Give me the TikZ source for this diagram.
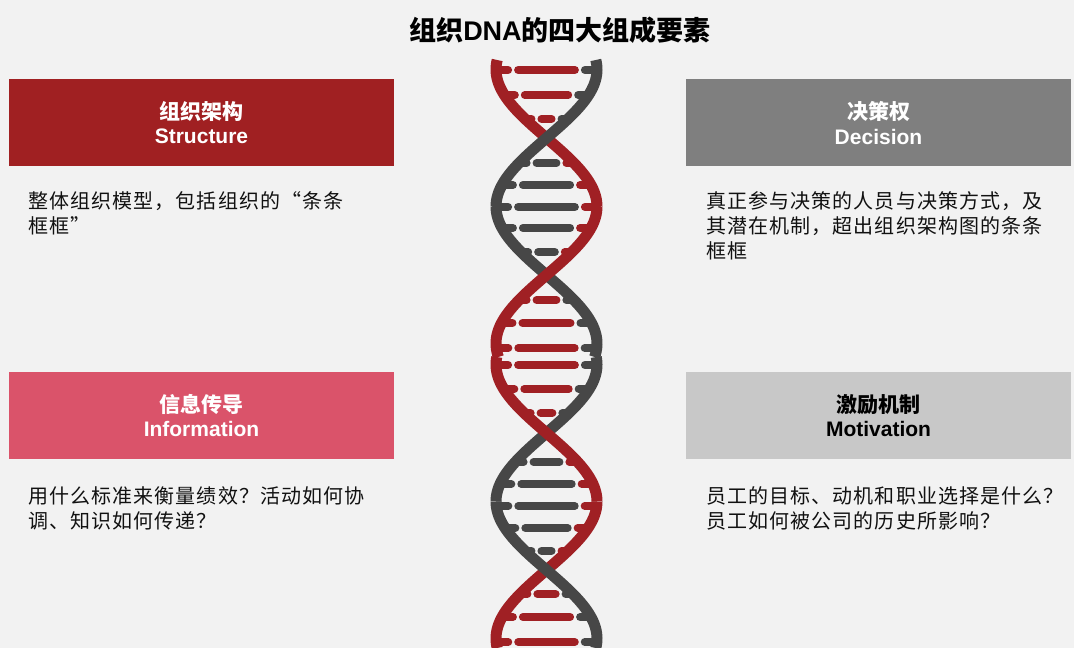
\documentclass[tikz,border=0pt]{standalone}
\usepackage{fontspec}
\setmainfont{Liberation Sans}
\newfontfamily\cjk{Noto Sans CJK SC}
\newfontfamily\cjkbody[LetterSpace=5.5]{Noto Sans CJK SC}

\definecolor{bg}{HTML}{F2F2F2}
\definecolor{ink}{HTML}{111111}
\definecolor{dnared}{HTML}{A02024}
\definecolor{dnagrey}{HTML}{474747}
\definecolor{boxred}{HTML}{A02022}
\definecolor{boxgrey}{HTML}{7F7F7F}
\definecolor{boxpink}{HTML}{DA536A}
\definecolor{boxlight}{HTML}{C8C8C8}

\tikzset{
	headbox/.style={minimum width=385pt, minimum height=87pt, inner sep=0pt, align=center,
		text=white, font=\bfseries\fontsize{21}{24.5}\selectfont},
	bodytext/.style={anchor=north west, inner sep=0pt, align=left, text=ink,
		font=\cjkbody\fontsize{20}{25}\selectfont},
	strand/.style={line width=11pt, samples=60, variable=\t},
	rungbar/.style={line width=8pt, line cap=round},
}

\begin{document}
\begin{tikzpicture}[
		x={(1pt,0pt)},
		y={(0pt,-1pt)},
	]
	\fill[bg] (0,0) rectangle (1074,648);
	\useasboundingbox (0,0) rectangle (1074,648);

	\node[font=\cjk\bfseries\fontsize{27}{30}\selectfont] (title) at (560,30) {组织{\rmfamily DNA}的四大组成要素};

	% the four boxes
	\node[headbox,fill=boxred] (struct) at (201.5,122.8) {{\cjk 组织架构}\\Structure};
	\node[headbox,fill=boxgrey] (decis) at (878.5,122.8) {{\cjk 决策权}\\Decision};
	\node[headbox,fill=boxpink] (info) at (201.5,415.5) {{\cjk 信息传导}\\Information};
	\node[headbox,fill=boxlight,text=black] (motiv) at (878.5,415.5) {{\cjk 激励机制}\\Motivation};

	\node[bodytext] (structtext) at (28,191.5) {整体组织模型，包括组织的“条条\\框框”};
	\node[bodytext] (decistext) at (706,191.5) {真正参与决策的人员与决策方式，及\\其潜在机制，超出组织架构图的条条\\框框};
	\node[bodytext] (infotext) at (28,486.5) {用什么标准来衡量绩效？活动如何协\\调、知识如何传递？};
	\node[bodytext] (motivtext) at (706,486.5) {员工的目标、动机和职业选择是什么？\\员工如何被公司的历史所影响？};

	% helix rungs: phase ref / height / left colour / right colour
	\foreach \yc/\y/\lc/\rc in {69.5/70/dnared/dnagrey, 69.5/95/dnared/dnagrey, 69.5/119/dnared/dnagrey,
			69.5/163/dnagrey/dnared, 69.5/185/dnagrey/dnared, 69.5/207/dnagrey/dnared, 69.5/228/dnagrey/dnared, 69.5/252/dnagrey/dnared,
			69.5/300/dnared/dnagrey, 69.5/323/dnared/dnagrey, 69.5/348/dnared/dnagrey,
			364.5/365/dnared/dnagrey, 364.5/389/dnared/dnagrey, 364.5/413/dnared/dnagrey,
			364.5/462/dnagrey/dnared, 364.5/484/dnagrey/dnared, 364.5/506/dnagrey/dnared, 364.5/528/dnagrey/dnared, 364.5/551/dnagrey/dnared,
			364.5/594/dnared/dnagrey, 364.5/617/dnared/dnagrey, 364.5/642/dnared/dnagrey}{
		\pgfmathsetmacro\hw{50.5*abs(cos((\y-\yc)*1.31387))}
		\pgfmathsetmacro\st{6+0.2*\hw}
		\pgfmathsetmacro\xl{546.5-\hw}
		\pgfmathsetmacro\xr{546.5+\hw}
		\draw[rungbar,\lc] (\xl,\y) -- ({\xl+\st-4},\y);
		\draw[rungbar,\lc] ({\xl+\st+6},\y) -- ({\xr-\st-6},\y);
		\draw[rungbar,\rc] ({\xr-\st+4},\y) -- (\xr,\y);
	}

	% strands, piece by piece so the crossings overlap right
	\draw[strand,dnared] plot[domain=60:206.5] ({546.5-50.5*cos((\t-69.5)*1.31387)},\t);
	\draw[strand,dnagrey] plot[domain=60:206.5] ({546.5+50.5*cos((\t-69.5)*1.31387)},\t);
	\draw[strand,dnagrey] plot[domain=206.5:357] ({546.5+50.5*cos((\t-69.5)*1.31387)},\t);
	\draw[strand,dnared] plot[domain=206.5:357] ({546.5-50.5*cos((\t-69.5)*1.31387)},\t);
	\draw[strand,dnagrey] plot[domain=357:501.5] ({546.5+50.5*cos((\t-364.5)*1.31387)},\t);
	\draw[strand,dnared] plot[domain=357:501.5] ({546.5-50.5*cos((\t-364.5)*1.31387)},\t);
	\draw[strand,dnared] plot[domain=501.5:648] ({546.5-50.5*cos((\t-364.5)*1.31387)},\t);
	\draw[strand,dnagrey] plot[domain=501.5:648] ({546.5+50.5*cos((\t-364.5)*1.31387)},\t);
\end{tikzpicture}
\end{document}
